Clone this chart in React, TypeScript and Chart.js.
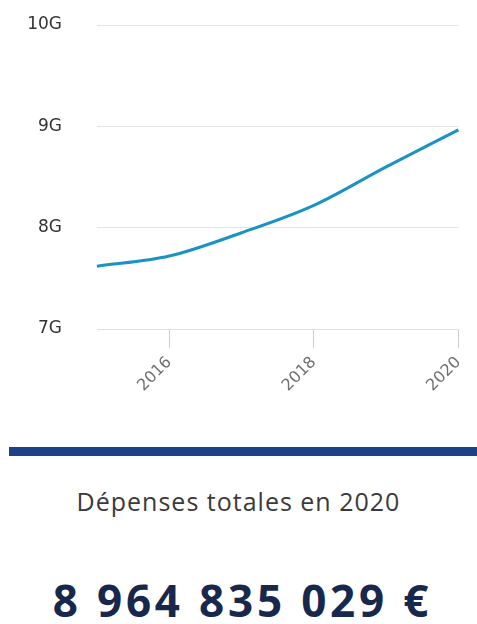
import React, { useEffect, useRef } from "react";
import { Chart, registerables } from "chart.js";

Chart.register(...registerables);

const years = ["2015", "2016", "2017", "2018", "2019", "2020"];
const spending = [7.62e9, 7.72e9, 7.95e9, 8.22e9, 8.6e9, 8.965e9];
const shownYears = ["2016", "2018", "2020"];
const captionText = "Dépenses totales en 2020";
const totalText = "8 964 835 029 €";

export default function App() {
  const canvasRef = useRef<HTMLCanvasElement | null>(null);

  useEffect(() => {
    const ctx = canvasRef.current;
    if (!ctx) return;
    const chart = new Chart(ctx, {
      type: "line",
      data: {
        labels: years,
        datasets: [
          {
            data: spending,
            borderColor: "#1b93c2",
            borderWidth: 3,
            pointRadius: 0,
            fill: false,
            cubicInterpolationMode: "monotone",
          },
        ],
      },
      options: {
        animation: false,
        responsive: false,
        layout: { padding: { top: 25, right: 14, left: 0, bottom: 0 } },
        plugins: { legend: { display: false }, tooltip: { enabled: false } },
        scales: {
          x: {
            type: "category",
            offset: false,
            grid: {
              drawOnChartArea: false,
              drawTicks: true,
              tickLength: 19,
              color: "#c9ccd2",
            },
            border: { display: true, color: "#dde0e4" },
            ticks: {
              autoSkip: false,
              minRotation: 45,
              maxRotation: 45,
              padding: 5,
              color: "#6f6f6f",
              font: { family: "DejaVu Sans", size: 16 },
              callback: function (_v: any, i: number) {
                const y = years[i];
                return shownYears.includes(y) ? y : null;
              },
            },
            afterFit: (scale: any) => {
              scale.height = 91;
            },
          },
          y: {
            min: 7e9,
            max: 10e9,
            grid: {
              color: "#e4e4e4",
              drawTicks: true,
              tickLength: 35,
              tickColor: "rgba(0,0,0,0)",
              lineWidth: 1,
            },
            border: { display: false },
            ticks: {
              stepSize: 1e9,
              padding: 0,
              color: "#333333",
              font: { family: "DejaVu Sans", size: 17 },
              callback: (v: any) => Number(v) / 1e9 + "G",
            },
            afterFit: (scale: any) => {
              scale.width = 97;
            },
          },
        },
      },
    });
    return () => chart.destroy();
  }, []);

  return (
    <div
      style={{
        position: "absolute",
        left: 0,
        top: 0,
        width: 477,
        height: 624,
        background: "#ffffff",
        overflow: "hidden",
      }}
    >
      <canvas
        ref={canvasRef}
        width={477}
        height={420}
        style={{ position: "absolute", left: 0, top: 0 }}
      />
      <div
        style={{
          position: "absolute",
          left: 9,
          top: 447,
          width: 468,
          height: 9,
          background: "#1d4187",
        }}
      />
      <div
        style={{
          position: "absolute",
          left: 0,
          width: 477,
          top: 484,
          textAlign: "center",
          fontFamily: "'Open Sans', sans-serif",
          fontSize: 25,
          letterSpacing: 1,
          color: "#3a3a3a",
          lineHeight: "34px",
          whiteSpace: "nowrap",
        }}
      >
        {captionText}
      </div>
      <div
        style={{
          position: "absolute",
          left: 4,
          width: 477,
          top: 572,
          textAlign: "center",
          fontFamily: "'Open Sans', sans-serif",
          fontWeight: 700,
          fontSize: 44,
          letterSpacing: 3.8,
          color: "#18284d",
          lineHeight: "56px",
          whiteSpace: "nowrap",
        }}
      >
        {totalText}
      </div>
    </div>
  );
}
